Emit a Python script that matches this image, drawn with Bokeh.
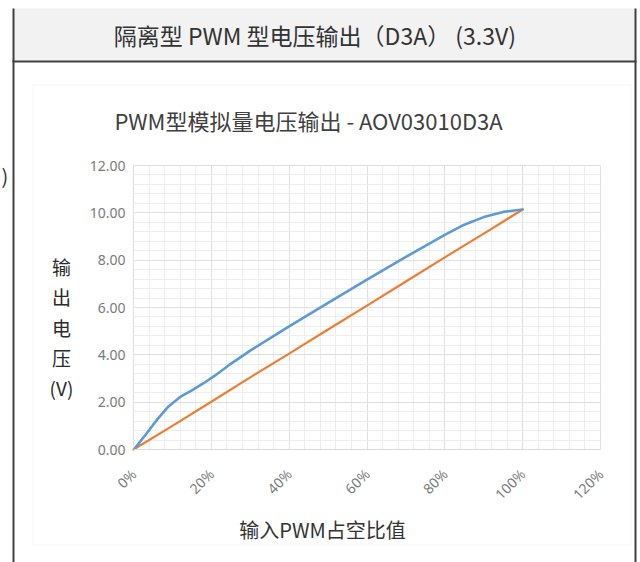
from bokeh.plotting import figure
from bokeh.models import (Range1d, FixedTicker, NumeralTickFormatter, LinearAxis,
                          Grid, Label, BoxAnnotation)
from bokeh.embed import file_html
from bokeh.resources import INLINE

# ---------------- data ----------------
header_text = "隔离型 PWM 型电压输出（D3A）  (3.3V)"
chart_title = "PWM型模拟量电压输出 - AOV03010D3A"
y_label_chars = ["输", "出", "电", "压", "(V)"]
x_label = "输入PWM占空比值"

x_ticks = [0.0, 0.2, 0.4, 0.6, 0.8, 1.0, 1.2]          # 0% ... 120%
y_ticks = [0.0, 2.0, 4.0, 6.0, 8.0, 10.0, 12.0]       # 0.00 ... 12.00

# measured output (blue)
duty_measured = [0.005, 0.03, 0.06, 0.09, 0.12, 0.15, 0.18, 0.21, 0.25, 0.30, 0.40,
                 0.50, 0.60, 0.70, 0.80, 0.85, 0.90, 0.95, 1.00]
volt_measured = [0.08, 0.60, 1.25, 1.82, 2.22, 2.50, 2.80, 3.13, 3.62, 4.18, 5.20,
                 6.20, 7.18, 8.14, 9.07, 9.50, 9.82, 10.04, 10.14]

# reference / ideal output (orange)
duty_ideal = [0.0, 0.1, 0.2, 0.3, 0.4, 0.5, 0.6, 0.7, 0.8, 0.9, 1.0]
volt_ideal = [0.00, 1.00, 2.02, 3.05, 4.05, 5.07, 6.08, 7.10, 8.12, 9.12, 10.14]

# ---------------- layout (pixels) ----------------
W, H = 640, 562
PLOT_L, PLOT_R, PLOT_T, PLOT_B = 133, 600, 165, 449
x_lo, x_hi = x_ticks[0], x_ticks[-1]
y_lo, y_hi = y_ticks[0], y_ticks[-1]
sx = (PLOT_R - PLOT_L) / (x_hi - x_lo)
sy = (PLOT_B - PLOT_T) / (y_hi - y_lo)

p = figure(width=W, height=H, output_backend="svg", toolbar_location=None,
           x_axis_type=None, y_axis_type=None, min_border=0,
           x_range=Range1d(x_lo - PLOT_L / sx, x_lo + (W - PLOT_L) / sx),
           y_range=Range1d(y_lo - (H - PLOT_B) / sy, y_lo + PLOT_B / sy))
p.outline_line_color = None
p.background_fill_color = "white"
p.border_fill_color = "white"

# minor tick positions (5 divisions per major step)
x_minor = [x_lo + i * (x_ticks[1] - x_ticks[0]) / 5 for i in range(5 * (len(x_ticks) - 1) + 1)]
y_minor = [y_lo + i * (y_ticks[1] - y_ticks[0]) / 5 for i in range(5 * (len(y_ticks) - 1) + 1)]

xgrid = Grid(dimension=0, ticker=FixedTicker(ticks=x_ticks, minor_ticks=x_minor),
             bounds=(x_lo, x_hi), cross_bounds=(y_lo, y_hi),
             grid_line_color="#e0e0e0", minor_grid_line_color="#eeeeee")
ygrid = Grid(dimension=1, ticker=FixedTicker(ticks=y_ticks, minor_ticks=y_minor),
             bounds=(y_lo, y_hi), cross_bounds=(x_lo, x_hi),
             grid_line_color="#e0e0e0", minor_grid_line_color="#eeeeee")
p.add_layout(xgrid)
p.add_layout(ygrid)

xa = LinearAxis(fixed_location=y_lo, bounds=(x_lo, x_hi),
                ticker=FixedTicker(ticks=x_ticks),
                formatter=NumeralTickFormatter(format="0%"))
xa.major_label_orientation = 0.785398
xa.axis_line_color = "#d9d9d9"
xa.major_tick_line_color = None
xa.minor_tick_line_color = None
xa.major_tick_out = 0
xa.major_tick_in = 0
xa.major_label_standoff = 22
xa.major_label_text_font = "Noto Sans"
xa.major_label_text_font_size = "14px"
xa.major_label_text_color = "#7a7a7a"
p.add_layout(xa, "below")

ya = LinearAxis(fixed_location=x_lo, bounds=(y_lo, y_hi),
                ticker=FixedTicker(ticks=y_ticks),
                formatter=NumeralTickFormatter(format="0.00"))
ya.axis_line_color = None
ya.major_tick_line_color = None
ya.minor_tick_line_color = None
ya.major_tick_out = 0
ya.major_tick_in = 0
ya.major_label_standoff = 8
ya.major_label_text_font = "Noto Sans"
ya.major_label_text_font_size = "14px"
ya.major_label_text_color = "#7a7a7a"
p.add_layout(ya, "left")

# series
p.line(duty_ideal, volt_ideal, line_color="#ED7D31", line_width=2.2, line_cap="round")
p.line(duty_measured, volt_measured, line_color="#5B9BD5", line_width=2.6,
       line_cap="round", line_join="round")

# ---------------- decorations (canvas pixel units) ----------------
def box(l, t, r, b, fill=None, line=None, lw=1, level="annotation"):
    p.add_layout(BoxAnnotation(left=l, right=r, top=t, bottom=b,
                               left_units="canvas", right_units="canvas",
                               top_units="canvas", bottom_units="canvas",
                               fill_color=fill, fill_alpha=1.0 if fill else 0.0,
                               line_color=line, line_width=lw, level=level,
                               editable=False))

box(13, 8, 635, 61, fill="#f2f2f2", level="underlay")          # header cell
box(32.5, 84.5, 630.5, 544.5, line="#d9d9d9", lw=1)             # chart area border
box(12, 8, 14, H, fill="#404040")                              # left table border
box(634, 8, 636, H, fill="#404040")                            # right table border
box(12, 60, 636, 62, fill="#404040")                           # header bottom border

def label(x, y, text, size, color, font="Noto Sans CJK SC", align="center"):
    p.add_layout(Label(x=x, y=y, x_units="canvas", y_units="canvas", text=text,
                       text_align=align, text_baseline="middle",
                       text_font=font, text_font_size=size, text_color=color))

label(317, 34, header_text, "23px", "#333333")
label(308, 119, chart_title, "22px", "#404040")
for i, ch in enumerate(y_label_chars):
    label(61, 266 + 30.3 * i, ch, "19px", "#2b2b2b")
label(322, 529, x_label, "20px", "#333333")
label(1, 175, ")", "20px", "#333333", align="left")

open("out.html", "w").write(file_html(p, INLINE))
